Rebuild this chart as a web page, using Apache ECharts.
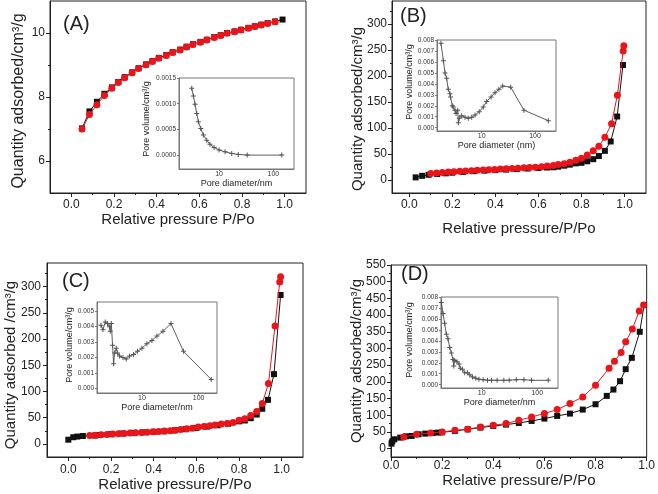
<!DOCTYPE html>
<html>
<head>
<meta charset="utf-8">
<script src="https://cdn.jsdelivr.net/npm/echarts@6/dist/echarts.min.js"></script>
<style>
html, body { margin: 0; padding: 0; background: #fff; }
#chart { width: 658px; height: 494px; }
</style>
</head>
<body>
<div id="chart"></div>
<script>
// (A) isotherm
const aAdsX = [0.05, 0.085, 0.12, 0.155, 0.19, 0.22, 0.25, 0.285, 0.315, 0.35, 0.38, 0.41, 0.445, 0.475, 0.51, 0.54, 0.57, 0.605, 0.635, 0.67, 0.70, 0.73, 0.765, 0.795, 0.83, 0.86, 0.89, 0.92, 0.955, 0.99];
const aAdsY = [7.02, 7.55, 7.85, 8.1, 8.3, 8.47, 8.62, 8.77, 8.9, 9.02, 9.12, 9.22, 9.31, 9.4, 9.48, 9.57, 9.65, 9.72, 9.79, 9.87, 9.93, 10.0, 10.05, 10.1, 10.16, 10.21, 10.26, 10.31, 10.36, 10.42];
const aDesX = [0.05, 0.085, 0.12, 0.155, 0.19, 0.22, 0.25, 0.285, 0.315, 0.35, 0.38, 0.41, 0.445, 0.475, 0.51, 0.54, 0.57, 0.605, 0.635, 0.67, 0.70, 0.73, 0.765, 0.795, 0.83, 0.86, 0.89, 0.92, 0.955];
const aDesY = [7.0, 7.45, 7.76, 8.05, 8.27, 8.45, 8.6, 8.76, 8.89, 9.01, 9.11, 9.21, 9.3, 9.39, 9.47, 9.56, 9.64, 9.71, 9.78, 9.86, 9.92, 9.99, 10.04, 10.09, 10.15, 10.2, 10.25, 10.3, 10.35];
// (A) pore size distribution
const aPoreD = [3.14, 3.37, 3.61, 3.88, 4.16, 4.6, 5.14, 5.93, 6.8, 8.1, 10, 12.9, 17.1, 22.6, 33, 143];
const aPoreV = [0.0013, 0.00115, 0.00099, 0.00081, 0.00065, 0.00052, 0.00039, 0.00029, 0.00021, 0.00015, 0.0001, 0.000064, 0.000033, 0.000014, 0, 0];

// (B)
const bAdsX = [0.03, 0.06, 0.09, 0.13, 0.17, 0.2, 0.25, 0.3, 0.35, 0.4, 0.45, 0.5, 0.55, 0.6, 0.64, 0.669, 0.692, 0.72, 0.746, 0.774, 0.8, 0.827, 0.855, 0.881, 0.909, 0.936, 0.966, 0.993];
const bAdsY = [5, 8, 10, 11.5, 12.8, 14, 15.5, 17, 18, 19, 20, 21, 22, 23, 24, 24.4, 25.6, 27.5, 29.5, 32, 33, 36, 40, 46, 56, 74, 122, 221];
const bDesX = [0.1, 0.127, 0.154, 0.181, 0.208, 0.235, 0.262, 0.289, 0.316, 0.343, 0.37, 0.397, 0.424, 0.451, 0.478, 0.505, 0.532, 0.559, 0.586, 0.615, 0.641, 0.669, 0.692, 0.72, 0.746, 0.774, 0.8, 0.827, 0.855, 0.881, 0.909, 0.94, 0.967, 0.994, 0.997];
const bDesY = [12.5, 13.5, 14.5, 15.3, 16, 16.7, 17.3, 18, 18.7, 19.2, 19.7, 20.3, 21, 21.5, 22, 22.7, 23.3, 24, 24.7, 25.6, 27, 28, 30, 31, 34, 38, 42, 48, 56, 65, 82, 108, 163, 248, 258];
const bPoreD = [1.72, 1.91, 2.05, 2.2, 2.36, 2.54, 2.6, 2.81, 2.92, 3.16, 3.3, 3.55, 3.65, 3.8, 4.2, 4.86, 5.6, 6.5, 7.5, 9, 10.7, 12.4, 15, 17.8, 21, 24.8, 35, 62, 178];
const bPoreV = [0.0077, 0.0061, 0.005, 0.0045, 0.0035, 0.0031, 0.0028, 0.002, 0.0019, 0.0016, 0.0013, 0.0016, 0.00046, 0.00086, 0.0011, 0.00095, 0.00086, 0.00095, 0.00116, 0.00146, 0.0019, 0.0024, 0.0028, 0.0032, 0.0035, 0.0038, 0.0037, 0.0016, 0.00064];

// (C)
const cAdsX = [0.0, 0.023, 0.042, 0.068, 0.125, 0.148, 0.2, 0.25, 0.3, 0.35, 0.4, 0.45, 0.5, 0.55, 0.6, 0.65, 0.7, 0.75, 0.8, 0.827, 0.855, 0.883, 0.909, 0.936, 0.964, 0.995];
const cAdsY = [8, 12.7, 14, 15, 16, 17, 18.5, 19.8, 21, 22, 23, 24, 26, 28, 30.5, 33, 35.5, 38.5, 43, 44.6, 49, 56, 67, 84, 133, 284];
const cDesX = [0.1, 0.127, 0.154, 0.181, 0.208, 0.235, 0.262, 0.289, 0.316, 0.343, 0.37, 0.397, 0.424, 0.451, 0.478, 0.5, 0.526, 0.555, 0.581, 0.609, 0.636, 0.664, 0.687, 0.717, 0.745, 0.773, 0.8, 0.827, 0.855, 0.883, 0.909, 0.938, 0.969, 0.991, 0.995];
const cDesY = [16, 16.5, 17.3, 18, 18.7, 19.3, 20, 20.6, 21.2, 21.8, 22.4, 23, 23.7, 24.4, 25.2, 26, 27.5, 29, 30, 32, 33, 34.5, 36, 38, 39, 41, 45, 48, 54, 62, 77, 115, 225, 309, 319];
const cPoreD = [1.89, 2.05, 2.25, 2.47, 2.68, 2.76, 2.88, 3.03, 3.16, 3.29, 3.52, 3.7, 4.03, 4.62, 5.28, 6.04, 7.1, 8.36, 10, 12.2, 15, 18.4, 23.5, 32.5, 54, 167];
const cPoreV = [0.0041, 0.0038, 0.0043, 0.0042, 0.004, 0.0037, 0.0042, 0.0028, 0.0016, 0.0023, 0.0026, 0.0023, 0.0021, 0.002, 0.0019, 0.0021, 0.0022, 0.0024, 0.0026, 0.0029, 0.0031, 0.0034, 0.0037, 0.0042, 0.0024, 0.00058];

// (D)
const dAdsX = [0.002, 0.005, 0.013, 0.036, 0.059, 0.081, 0.108, 0.134, 0.162, 0.184, 0.2, 0.25, 0.3, 0.35, 0.4, 0.45, 0.5, 0.55, 0.6, 0.65, 0.7, 0.75, 0.8, 0.844, 0.87, 0.896, 0.918, 0.942, 0.973, 0.99];
const dAdsY = [15, 22, 28, 33, 37, 38, 43, 45, 47, 48, 49, 53, 58, 63, 68, 72, 77, 83, 90, 98, 105, 117, 133, 158, 177, 202, 238, 272, 350, 430];
const dDesX = [0.05, 0.1, 0.155, 0.2, 0.25, 0.3, 0.35, 0.4, 0.45, 0.5, 0.55, 0.6, 0.65, 0.7, 0.75, 0.8, 0.853, 0.874, 0.9, 0.918, 0.944, 0.971, 0.988];
const dDesY = [35, 43, 47, 50, 55, 58, 65, 70, 75, 85, 95, 105, 117, 135, 155, 190, 241, 262, 288, 320, 358, 412, 430];
const dPoreD = [1.87, 2.0, 2.14, 2.3, 2.46, 2.64, 2.83, 3.03, 3.12, 3.25, 3.57, 3.9, 4.1, 4.48, 4.93, 5.5, 6.07, 6.8, 7.8, 8.9, 10.6, 12.7, 15, 18.9, 25, 31.2, 42, 57.5, 79, 158];
const dPoreV = [0.0075, 0.0065, 0.0056, 0.0046, 0.0042, 0.0034, 0.0029, 0.0023, 0.0017, 0.0022, 0.0021, 0.0019, 0.0015, 0.0014, 0.0011, 0.0011, 0.0009, 0.0007, 0.0006, 0.0005, 0.00046, 0.0004, 0.0004, 0.0004, 0.0004, 0.00041, 0.00046, 0.00046, 0.0004, 0.0004];

// tick values
const pTicks = [0, 0.2, 0.4, 0.6, 0.8, 1.0];
const pMinor = [0.1, 0.3, 0.5, 0.7, 0.9];
const aQTicks = [6, 8, 10];
const aQMinor = [7, 9];
const bcQTicks = [0, 50, 100, 150, 200, 250, 300];
const bcQMinor = [25, 75, 125, 175, 225, 275, 325];
const dQTicks = [0, 50, 100, 150, 200, 250, 300, 350, 400, 450, 500, 550];
const dQMinor = [25, 75, 125, 175, 225, 275, 325, 375, 425, 475, 525];
const aVolTicks = [0, 0.0005, 0.001, 0.0015];
const bdVolTicks = [0, 0.001, 0.002, 0.003, 0.004, 0.005, 0.006, 0.007, 0.008];
const cVolTicks = [0, 0.001, 0.002, 0.003, 0.004, 0.005];

const FONT = '"Liberation Sans", Arial, sans-serif';
const INK = '#222';
const PLUS = 'path://M4,0H6V4H10V6H6V10H4V6H0V4H4Z';

const grids = [], xAxes = [], yAxes = [], series = [], graphics = [];

function zip(xs, ys) { return xs.map((x, i) => [x, ys[i]]); }

function valueAxis(gi, pos, s, minor) {
    const ax = {
        type: 'value', gridIndex: gi, position: pos, min: s.min, max: s.max,
        splitLine: { show: false },
        axisLine: { show: !minor, onZero: false, lineStyle: { color: s.color, width: 1 } },
        axisTick: {
            show: !minor || !!s.minor, inside: false,
            customValues: minor ? s.minor : s.major,
            length: minor ? s.tick * 0.5 : s.tick,
            lineStyle: { color: s.color, width: 1 }
        },
        axisLabel: minor ? { show: false } : {
            customValues: s.major, formatter: s.fmt, fontSize: s.size,
            color: s.labelColor || INK, fontFamily: FONT, margin: s.margin
        }
    };
    if (!minor && s.name) {
        ax.name = s.name;
        ax.nameLocation = 'middle';
        ax.nameGap = s.nameGap;
        ax.nameTextStyle = { fontSize: s.nameSize, color: INK, fontFamily: FONT };
    }
    return ax;
}

function logAxis(gi, s) {
    return {
        type: 'log', logBase: 10, gridIndex: gi, position: 'bottom', min: s.min, max: s.max,
        splitLine: { show: false },
        axisLine: { onZero: false, lineStyle: { color: s.color, width: 1 } },
        axisTick: { inside: false, length: s.tick, lineStyle: { color: s.color } },
        axisLabel: { showMinLabel: false, showMaxLabel: false, fontSize: s.size, color: '#333', fontFamily: FONT, margin: s.margin },
        name: s.name, nameLocation: 'middle', nameGap: s.nameGap,
        nameTextStyle: { fontSize: s.nameSize, color: INK, fontFamily: FONT }
    };
}

function addPlot(rect, xs, ys, frame, bg) {
    const gi = grids.length;
    grids.push({ left: rect[0], top: rect[1], width: rect[2], height: rect[3], show: true, borderColor: frame, borderWidth: 1, backgroundColor: bg });
    const xi = xAxes.length, yi = yAxes.length;
    if (xs.type === 'log') {
        xAxes.push(logAxis(gi, xs));
    } else {
        xAxes.push(valueAxis(gi, 'bottom', xs, false), valueAxis(gi, 'bottom', xs, true));
    }
    yAxes.push(valueAxis(gi, 'left', ys, false), valueAxis(gi, 'left', ys, true));
    return { xi, yi };
}

function isotherm(ax, xs, ys, ads) {
    const c = ads ? '#111' : '#e8151b';
    series.push({
        type: 'line', xAxisIndex: ax.xi, yAxisIndex: ax.yi, data: zip(xs, ys),
        symbol: ads ? 'rect' : 'circle', symbolSize: ads ? 6 : 7,
        itemStyle: { color: c }, lineStyle: { color: c, width: 1 },
        animation: false, silent: true, z: ads ? 2 : 3
    });
}

function pores(ax, xs, ys) {
    series.push({
        type: 'line', xAxisIndex: ax.xi, yAxisIndex: ax.yi, data: zip(xs, ys),
        symbol: PLUS, symbolSize: 5, itemStyle: { color: '#555' },
        lineStyle: { color: '#333', width: 0.8 }, animation: false, silent: true, z: 5
    });
}

function yTitle(text, x, y, size) {
    graphics.push({
        type: 'text', x: x, y: y, rotation: Math.PI / 2, z: 10,
        style: { text: text, font: size + 'px ' + FONT, fill: INK, textAlign: 'center', textVerticalAlign: 'middle', align: 'center', verticalAlign: 'middle' }
    });
}

function tag(text, x, y) {
    graphics.push({
        type: 'text', x: x, y: y, z: 10,
        style: { text: text, font: '20px ' + FONT, fill: INK, textVerticalAlign: 'top', verticalAlign: 'top' }
    });
}

const fmt1 = v => v.toFixed(1);
const fmtInt = v => String(v);

// main panels
const A = addPlot([50, 1, 256, 192],
    { min: -0.1, max: 1.1, major: pTicks, minor: pMinor, fmt: fmt1, size: 12, tick: 4, color: INK, margin: 6, name: 'Relative pressure P/Po', nameGap: 17, nameSize: 15 },
    { min: 5, max: 11, major: aQTicks, minor: aQMinor, fmt: fmtInt, size: 12, tick: 4, color: INK, margin: 5 },
    INK, 'transparent');
const B = addPlot([392, 1, 254, 192],
    { min: -0.08, max: 1.1, major: pTicks, minor: pMinor, fmt: fmt1, size: 12, tick: 4, color: INK, margin: 6, name: 'Relative pressure/P/Po', nameGap: 28, nameSize: 15 },
    { min: -25, max: 344, major: bcQTicks, minor: bcQMinor, fmt: fmtInt, size: 12, tick: 4, color: INK, margin: 5 },
    INK, 'transparent');
const C = addPlot([47, 263, 256, 194],
    { min: -0.1, max: 1.1, major: pTicks, minor: pMinor, fmt: fmt1, size: 12, tick: 4, color: INK, margin: 7, name: 'Relative pressure/P/Po', nameGap: 16, nameSize: 15 },
    { min: -25, max: 345, major: bcQTicks, minor: bcQMinor, fmt: fmtInt, size: 12, tick: 4, color: INK, margin: 6 },
    INK, 'transparent');
const D = addPlot([391, 265, 259, 192],
    { min: 0, max: 1.0, major: pTicks, minor: pMinor, fmt: fmt1, size: 12, tick: 4, color: INK, margin: 3, name: 'Relative pressure/P/Po', nameGap: 12, nameSize: 15 },
    { min: -25, max: 550, major: dQTicks, minor: dQMinor, fmt: fmtInt, size: 12, tick: 4, color: INK, margin: 5 },
    INK, 'transparent');

isotherm(A, aAdsX, aAdsY, true);
isotherm(A, aDesX, aDesY, false);
isotherm(B, bAdsX, bAdsY, true);
isotherm(B, bDesX, bDesY, false);
isotherm(C, cAdsX, cAdsY, true);
isotherm(C, cDesX, cDesY, false);
isotherm(D, dAdsX, dAdsY, true);
isotherm(D, dDesX, dDesY, false);

// insets
const GREY = '#777';
function insetY(min, max, ticks, digits) {
    return { min: min, max: max, major: ticks, fmt: v => v.toFixed(digits), size: 6.5, tick: 2, color: GREY, labelColor: '#333', margin: 3 };
}
function insetX(min, max, name, gap) {
    return { type: 'log', min: min, max: max, size: 7, tick: 2, color: GREY, margin: 2, name: name, nameGap: gap, nameSize: 9 };
}
const Ai = addPlot([179, 78, 115, 91], insetX(1.83, 240, 'Pore diameter/nm', 7), insetY(-0.00027, 0.0015, aVolTicks, 4), GREY, '#fff');
const Bi = addPlot([437, 40, 119, 91], insetX(1.45, 248, 'Pore diameter (nm)', 10), insetY(-0.0003, 0.008, bdVolTicks, 3), GREY, '#fff');
const Ci = addPlot([97, 302, 120, 91], insetX(1.61, 211, 'Pore diameter/nm', 8), insetY(-0.0003, 0.0056, cVolTicks, 3), GREY, '#fff');
const Di = addPlot([441, 297, 117, 91], insetX(1.84, 237, 'Pore diameter/nm', 8), insetY(-0.0003, 0.008, bdVolTicks, 3), GREY, '#fff');
pores(Ai, aPoreD, aPoreV);
pores(Bi, bPoreD, bPoreV);
pores(Ci, cPoreD, cPoreV);
pores(Di, dPoreD, dPoreV);

// axis titles on the quantity / volume axes
yTitle('Quantity adsorbed/cm³/g', 19, 101, 16);
yTitle('Quantity adsorbed/cm³/g', 358, 109, 15);
yTitle('Quantity adsorbed /cm³/g', 11, 365, 15);
yTitle('Quantity adsorbed/cm³/g', 357, 361, 15);
yTitle('Pore volume/cm³/g', 147, 119, 9);
yTitle('Pore volume/cm³/g', 410, 82, 9);
yTitle('Pore volume/cm³/g', 70, 345, 9);
yTitle('Pore volume/cm³/g', 410, 340, 9);

tag('(A)', 63, 14);
tag('(B)', 400, 6);
tag('(C)', 62, 271);
tag('(D)', 401, 264);

const chart = echarts.init(document.getElementById('chart'));
chart.setOption({
    backgroundColor: '#fff',
    animation: false,
    grid: grids,
    xAxis: xAxes,
    yAxis: yAxes,
    series: series,
    graphic: graphics
});
</script>
</body>
</html>
